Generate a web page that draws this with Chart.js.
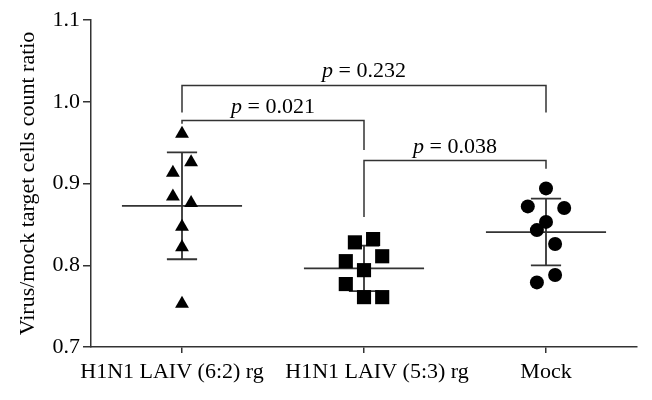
<!DOCTYPE html>
<html>
<head>
<meta charset="utf-8">
<script src="https://cdn.jsdelivr.net/npm/chart.js@4/dist/chart.umd.min.js"></script>
<style>
  html, body { margin: 0; padding: 0; background: #fff; }
  #wrap { width: 652px; height: 400px; position: relative; }
</style>
</head>
<body>
<div id="wrap"><canvas id="c"></canvas></div>
<script>
// ---- data ----
const categories = ['H1N1 LAIV (6:2) rg', 'H1N1 LAIV (5:3) rg', 'Mock'];
const laiv62 = [0.961, 0.926, 0.913, 0.884, 0.876, 0.847, 0.822, 0.753];
const laiv53 = [0.828, 0.832, 0.811, 0.805, 0.794, 0.777, 0.761, 0.761];
const mock   = [0.894, 0.872, 0.870, 0.853, 0.843, 0.826, 0.788, 0.779];
const jitter62   = [0, 0.05, -0.05, -0.05, 0.05, 0, 0, 0];
const jitter53   = [-0.05, 0.05, 0.1, -0.1, 0, -0.1, 0, 0.1];
const jitterMock = [0, -0.1, 0.1, 0, -0.05, 0.05, 0.05, -0.05];
const yTicks = [0.7, 0.8, 0.9, 1.0, 1.1];
const yTitle = 'Virus/mock target cells count ratio';
// significance brackets: groups compared, bracket top and leg ends (y units), p-value
const brackets = [
  { a: 0, b: 2, top: 1.020, endA: 0.987, endB: 0.987, p: '0.232' },
  { a: 0, b: 1, top: 0.977, endA: 0.973, endB: 0.941, p: '0.021' },
  { a: 1, b: 2, top: 0.928, endA: 0.859, endB: 0.918, p: '0.038' }
];

const groups = [laiv62, laiv53, mock];
const jitters = [jitter62, jitter53, jitterMock];
const styles = ['triangle', 'rect', 'circle'];
const radii = [8, 10, 7];
const FONT = '"Liberation Serif", "DejaVu Serif", serif';
const INK = '#000';
const LINE = '#333';
const labelShift = [-10, 13, 0];

function mean(a) { return a.reduce((s, v) => s + v, 0) / a.length; }
function sd(a) { const m = mean(a); return Math.sqrt(a.reduce((s, v) => s + (v - m) * (v - m), 0) / (a.length - 1)); }

const datasets = groups.map((g, gi) => ({
  label: categories[gi],
  data: g.map((v, i) => ({ x: gi + 1 + jitters[gi][i], y: v })),
  pointStyle: styles[gi],
  pointRadius: radii[gi],
  pointHoverRadius: radii[gi],
  backgroundColor: '#000',
  borderColor: '#000',
  borderWidth: 0,
  showLine: false
}));

const meanSdPlugin = {
  id: 'meanSd',
  beforeDatasetsDraw(chart) {
    const { ctx, scales: { x, y } } = chart;
    ctx.save();
    ctx.strokeStyle = LINE;
    ctx.lineWidth = 1.8;
    groups.forEach((g, gi) => {
      const m = mean(g), s = sd(g);
      const cx = x.getPixelForValue(gi + 1);
      const halfMean = x.getPixelForValue(gi + 1.33) - cx;
      const halfCap = x.getPixelForValue(gi + 1.083) - cx;
      const ym = y.getPixelForValue(m), yt = y.getPixelForValue(m + s), yb = y.getPixelForValue(m - s);
      ctx.beginPath();
      ctx.moveTo(cx - halfMean, ym); ctx.lineTo(cx + halfMean, ym);
      ctx.moveTo(cx, yt); ctx.lineTo(cx, yb);
      ctx.moveTo(cx - halfCap, yt); ctx.lineTo(cx + halfCap, yt);
      ctx.moveTo(cx - halfCap, yb); ctx.lineTo(cx + halfCap, yb);
      ctx.stroke();
    });
    ctx.restore();
  }
};

const bracketPlugin = {
  id: 'brackets',
  afterDatasetsDraw(chart) {
    const { ctx, scales: { x, y } } = chart;
    ctx.save();
    ctx.strokeStyle = LINE;
    ctx.lineWidth = 1.5;
    brackets.forEach(b => {
      const xa = x.getPixelForValue(b.a + 1), xb = x.getPixelForValue(b.b + 1);
      const yt = y.getPixelForValue(b.top);
      ctx.beginPath();
      ctx.moveTo(xa, y.getPixelForValue(b.endA));
      ctx.lineTo(xa, yt);
      ctx.lineTo(xb, yt);
      ctx.lineTo(xb, y.getPixelForValue(b.endB));
      ctx.stroke();
      // label "p = value", italic p
      const rest = ' = ' + b.p;
      ctx.font = 'italic 22px ' + FONT;
      const wp = ctx.measureText('p').width;
      ctx.font = '22px ' + FONT;
      const wr = ctx.measureText(rest).width;
      const cx = (xa + xb) / 2;
      const x0 = cx - (wp + wr) / 2;
      const by = yt - 8;
      ctx.fillStyle = INK;
      ctx.textAlign = 'left';
      ctx.textBaseline = 'alphabetic';
      ctx.font = 'italic 22px ' + FONT;
      ctx.fillText('p', x0, by);
      ctx.font = '22px ' + FONT;
      ctx.fillText(rest, x0 + wp, by);
    });
    ctx.restore();
  }
};

const xLabelPlugin = {
  id: 'xLabels',
  afterDraw(chart) {
    const { ctx, scales: { x } } = chart;
    ctx.save();
    ctx.font = '22px ' + FONT;
    ctx.fillStyle = INK;
    ctx.textAlign = 'center';
    ctx.textBaseline = 'alphabetic';
    categories.forEach((c, i) => {
      ctx.fillText(c, x.getPixelForValue(i + 1) + labelShift[i], 378);
    });
    ctx.restore();
  }
};

new Chart(document.getElementById('c'), {
  type: 'scatter',
  data: { datasets },
  plugins: [meanSdPlugin, bracketPlugin, xLabelPlugin],
  options: {
    responsive: true,
    maintainAspectRatio: false,
    animation: false,
    layout: { padding: { top: 20, right: 15, bottom: 0, left: 0 } },
    plugins: { legend: { display: false }, tooltip: { enabled: false } },
    scales: {
      x: {
        type: 'linear',
        min: 0.5,
        max: 3.5,
        afterBuildTicks(scale) { scale.ticks = categories.map((c, i) => ({ value: i + 1 })); },
        afterFit(scale) { scale.height = 53; },
        ticks: { display: false },
        grid: { display: true, drawOnChartArea: false, drawTicks: true, tickLength: 6, color: LINE, lineWidth: 1.5 },
        border: { display: true, color: LINE, width: 1.5 }
      },
      y: {
        type: 'linear',
        min: 0.7,
        max: 1.1,
        afterBuildTicks(scale) { scale.ticks = yTicks.map(v => ({ value: v })); },
        afterFit(scale) { scale.width = 91; },
        ticks: {
          padding: 3,
          color: INK,
          font: { family: FONT, size: 22 },
          callback: v => Number(v).toFixed(1)
        },
        grid: { display: true, drawOnChartArea: false, drawTicks: true, tickLength: 8, color: LINE, lineWidth: 1.5 },
        border: { display: true, color: LINE, width: 1.5 },
        title: {
          display: true,
          text: yTitle,
          color: INK,
          font: { family: FONT, size: 22 },
          padding: { top: 15, bottom: 0 }
        }
      }
    }
  }
});
</script>
</body>
</html>
